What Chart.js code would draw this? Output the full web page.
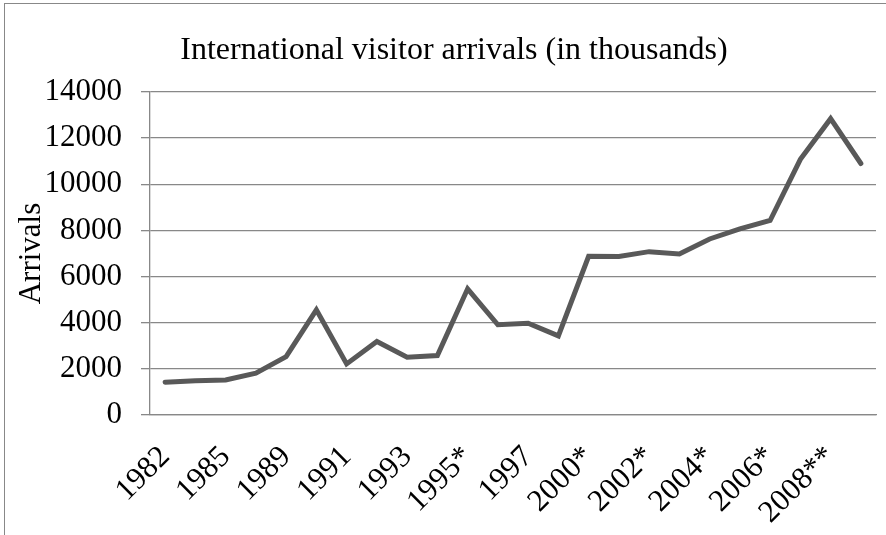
<!DOCTYPE html>
<html lang="en">
<head>
    <meta charset="UTF-8">
    <title>International visitor arrivals</title>
    <script src="https://cdn.jsdelivr.net/npm/chart.js"></script>
    <style>
        body { margin: 0; background: #fff; overflow: hidden; }
        #frame { position: absolute; left: 4px; top: 3px; width: 900px; height: 600px; border: 1.5px solid #888; }
        #wrap { position: absolute; left: 0; top: 0; width: 886px; height: 535px; }
    </style>
</head>
<body>
<div id="frame"></div>
<div id="wrap"><canvas id="arrivalsChart" width="886" height="535"></canvas></div>

<script>
    // Years (only every other one is labelled on the axis)
    const years = ['1982', '1984', '1985', '1987', '1989', '1990', '1991', '1992', '1993', '1994',
        '1995*', '1996*', '1997', '1998', '2000*', '2001*', '2002*', '2003*', '2004*', '2005*',
        '2006*', '2007*', '2008**', '2009**'];
    // Arrivals, thousands
    const arrivals = [1420, 1480, 1520, 1810, 2530, 4560, 2215, 3185, 2505, 2580,
        5470, 3910, 3980, 3430, 6880, 6870, 7080, 6980, 7630, 8065,
        8430, 11080, 12845, 10900];
    const yTicks = { min: 0, max: 14000, step: 2000 };
    const chartTitle = 'International visitor arrivals (in thousands)';

    const serif = '"Liberation Serif", "Times New Roman", serif';
    const gridColor = '#888888';

    // title sits a bit right of the canvas centre in the original, so draw it here
    const titlePlugin = {
        id: 'offTitle',
        afterDraw(chart) {
            const c = chart.ctx;
            c.save();
            c.font = '32px ' + serif;
            c.fillStyle = '#000';
            c.textAlign = 'center';
            c.textBaseline = 'middle';
            c.fillText(chartTitle, 454, 51);
            c.restore();
        }
    };

    const ctx = document.getElementById('arrivalsChart').getContext('2d');
    new Chart(ctx, {
        type: 'line',
        data: {
            labels: years,
            datasets: [{
                data: arrivals,
                borderColor: '#595959',
                borderWidth: 5,
                borderCapStyle: 'round',
                borderJoinStyle: 'miter',
                pointRadius: 0,
                tension: 0,
                fill: false
            }]
        },
        plugins: [titlePlugin],
        options: {
            responsive: false,
            animation: false,
            layout: { padding: { top: 92, right: 10, bottom: 0, left: 0 } },
            plugins: {
                legend: { display: false },
                tooltip: { enabled: false },
                title: { display: false }
            },
            scales: {
                x: {
                    offset: true,
                    grid: { display: false },
                    border: { display: true, color: gridColor, width: 1.3 },
                    ticks: {
                        autoSkip: false,
                        maxRotation: 45,
                        minRotation: 45,
                        padding: 16,
                        color: '#000',
                        font: { family: serif, size: 31 },
                        callback: function (val, i) { return i % 2 === 0 ? years[i] : ''; }
                    },
                    // fixed height, and no extra side room for the slanted labels
                    afterFit: s => { s.height = 120; s.paddingLeft = 0; s.paddingRight = 0; }
                },
                y: {
                    min: yTicks.min,
                    max: yTicks.max,
                    grid: { color: gridColor, lineWidth: 1.3, tickLength: 9 },
                    border: { display: true, color: gridColor, width: 1.3 },
                    ticks: {
                        stepSize: yTicks.step,
                        padding: 19,
                        color: '#000',
                        font: { family: serif, size: 31 },
                        callback: v => String(v)
                    },
                    title: {
                        display: true,
                        text: 'Arrivals',
                        color: '#000',
                        font: { family: serif, size: 31 },
                        padding: { top: 13, bottom: 0 }
                    },
                    afterFit: s => { s.width = 150; }
                }
            }
        }
    });
</script>
</body>
</html>
